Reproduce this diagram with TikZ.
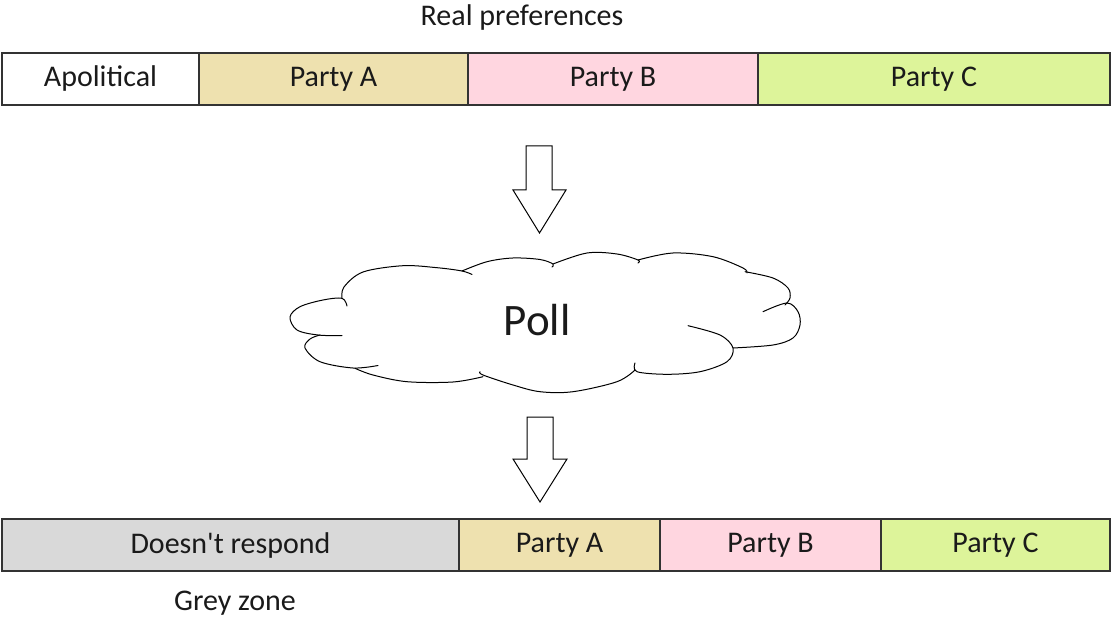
\documentclass[tikz,border=0pt]{standalone}
\usepackage{fontspec}
\setmainfont{Carlito}[Ligatures=TeXOff]
\definecolor{pa}{HTML}{EEE1AF}
\definecolor{pb}{HTML}{FFD6E0}
\definecolor{pc}{HTML}{DDF49A}
\definecolor{gz}{HTML}{D9D9D9}
\definecolor{edge}{HTML}{333333}
\definecolor{ink}{HTML}{1A1A1A}
\tikzset{
  cell/.style={draw=edge, line width=1.3pt, minimum height=52pt, inner sep=0pt, text=ink, font=\fontsize{30}{34}\selectfont},
  lbl/.style={text=ink, inner sep=0pt, font=\fontsize{30}{34}\selectfont},
  blockarrow/.style={draw=black, line width=1pt, fill=white, line join=miter},
  lobe/.style={draw=black, line width=1pt, line cap=round},
}
\begin{document}
\begin{tikzpicture}[x=1pt,y=-1pt]
\useasboundingbox (0,0) rectangle (1113,617);
% top bar
\node[cell, fill=white, minimum width=197pt] (apol) at (100.5,79) {Apolitical};
\node[cell, fill=pa, minimum width=269pt] (ta) at (333.5,79) {Party A};
\node[cell, fill=pb, minimum width=290pt] (tb) at (613,79) {Party B};
\node[cell, fill=pc, minimum width=352pt] (tc) at (934,79) {Party C};
\node[lbl] (real) at (522,18) {Real preferences};
% cloud
\draw[lobe] plot[smooth, tension=0.55] coordinates {(342,335.7) (318,335) (297,330) (290,317) (300,306.7) (323,300) (342,298.3) (347,306)};
\draw[lobe] plot[smooth, tension=0.55] coordinates {(342,298.5) (344,287) (363,272) (403,265.7) (437,267.7) (462,271) (472,274.5)};
\draw[lobe] plot[smooth, tension=0.55] coordinates {(462,271) (487,261.7) (513,258) (540,259.5) (553,264) (552,267)};
\draw[lobe] plot[smooth, tension=0.55] coordinates {(553,264) (587,253) (617,254) (638,260) (638,263)};
\draw[lobe] plot[smooth, tension=0.55] coordinates {(638,260) (673,253) (713,256.7) (743,268) (747,273)};
\draw[lobe] plot[smooth, tension=0.55] coordinates {(745,271.7) (773,278) (788,288) (790,298) (785,305)};
\draw[lobe] plot[smooth, tension=0.55] coordinates {(763,311.7) (787,303) (798,311.7) (800,325) (793,338) (773,345) (733,348)};
\draw[lobe] plot[smooth, tension=0.55] coordinates {(688,325.7) (720,335) (733,348) (727,361.7) (700,371.7) (667,374.3) (637,371.7) (635,363)};
\draw[lobe] plot[smooth, tension=0.55] coordinates {(635,370) (617,381.7) (573,391.7) (540,391.7) (513,385) (483,375) (480,371.7)};
\draw[lobe] plot[smooth, tension=0.55] coordinates {(483,376.7) (453,382) (407,381.7) (373,375) (355,368.3)};
\draw[lobe] plot[smooth, tension=0.55] coordinates {(378,365.5) (353,368) (320,361.7) (305,348) (310,339) (320,335)};
\node[text=ink, font=\fontsize{45}{50}\selectfont, inner sep=0pt] (poll) at (537,320) {Poll};
% arrows
\draw[blockarrow] (526,146) -- (552,146) -- (552,190) -- (566,190) -- (539.5,233) -- (513,190) -- (526,190) -- cycle;
\draw[blockarrow] (527,417) -- (553,417) -- (553,459) -- (567,459) -- (540,502) -- (513,459) -- (527,459) -- cycle;
% bottom bar
\node[cell, fill=gz, minimum width=457pt] (dr) at (230.5,545) {Doesn't respond};
\node[cell, fill=pa, minimum width=201pt] (ba) at (559.5,545) {Party A};
\node[cell, fill=pb, minimum width=221pt] (bb) at (770.5,545) {Party B};
\node[cell, fill=pc, minimum width=229pt] (bc) at (995.5,545) {Party C};
\node[lbl] (grey) at (235,603) {Grey zone};
\end{tikzpicture}
\end{document}
